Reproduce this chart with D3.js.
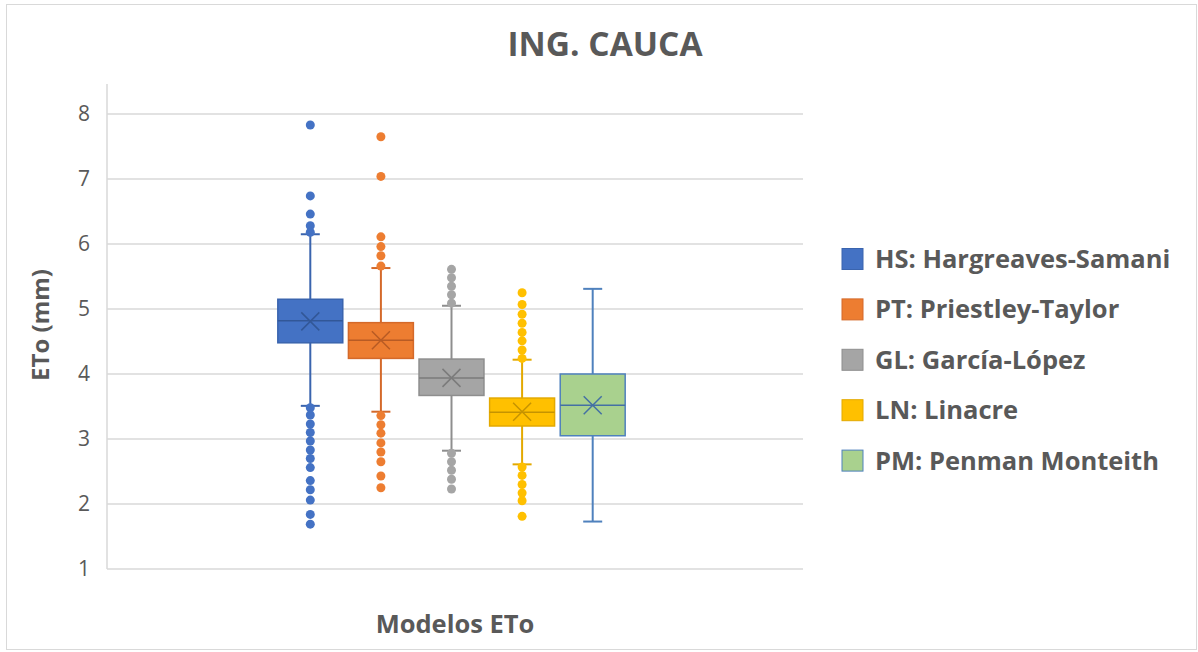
<!DOCTYPE html>
<meta charset="utf-8">
<head>
  <title>ING. CAUCA</title>
</head>

<style>
body { margin: 0; background: #fff; }
text { font-family: "Open Sans", Lato, sans-serif; fill: #595959; }
.grid line { stroke: #d9d9d9; stroke-width: 1.5; }
</style>

<body>
  <svg width="1198" height="652"></svg>

  <script src="https://cdnjs.cloudflare.com/ajax/libs/d3/7.8.5/d3.min.js"></script>
  <script>
var width = 1198, height = 652

// series
var series = ['HS: Hargreaves-Samani', 'PT: Priestley-Taylor', 'GL: García-López', 'LN: Linacre', 'PM: Penman Monteith']
var fills   = ['#4472C4', '#ED7D31', '#A5A5A5', '#FFC000', '#A9D18E']
var strokes = ['#3A64AE', '#D4692A', '#8E8E8E', '#E3A900', '#4F81BD']

var q1      = [4.48, 4.24, 3.67, 3.20, 3.05]
var medians = [4.82, 4.52, 3.94, 3.41, 3.52]
var q3      = [5.15, 4.79, 4.23, 3.63, 4.00]
var lows    = [3.51, 3.42, 2.82, 2.61, 1.73]
var highs   = [6.15, 5.63, 5.05, 4.22, 5.31]
var means   = [4.81, 4.52, 3.94, 3.42, 3.52]
var outliers = [
  [7.83, 6.74, 6.46, 6.28, 6.18, 3.48, 3.37, 3.23, 3.10, 2.97, 2.83, 2.70, 2.56, 2.36, 2.22, 2.06, 1.84, 1.69],
  [7.65, 7.04, 6.11, 5.96, 5.82, 5.66, 3.36, 3.22, 3.09, 2.94, 2.80, 2.65, 2.43, 2.25],
  [5.61, 5.48, 5.35, 5.22, 5.09, 2.78, 2.65, 2.52, 2.38, 2.23],
  [5.25, 5.07, 4.92, 4.78, 4.64, 4.51, 4.37, 4.24, 2.57, 2.44, 2.30, 2.17, 2.05, 1.81],
  []
]
var yTicks = [1, 2, 3, 4, 5, 6, 7, 8]

var svg = d3.select('svg')

// chart border
svg.append('rect')
  .attr('x', 6.5).attr('y', 4.5)
  .attr('width', 1190).attr('height', 645)
  .attr('fill', '#fff').attr('stroke', '#d9d9d9')

var plotLeft = 107, plotRight = 803, plotTop = 114, plotBottom = 569

var y = d3.scaleLinear().domain([1, 8]).range([plotBottom, plotTop])
var x = d3.scaleBand().domain(series).range([275, 628]).paddingInner(0.08).paddingOuter(0.04)

// gridlines
svg.append('g').attr('class', 'grid')
  .selectAll('line').data(yTicks).enter().append('line')
  .attr('x1', plotLeft).attr('x2', plotRight)
  .attr('y1', function(d) { return y(d) }).attr('y2', function(d) { return y(d) })

svg.append('line')
  .attr('x1', plotLeft).attr('x2', plotLeft)
  .attr('y1', plotTop - 30).attr('y2', plotBottom)
  .attr('stroke', '#d9d9d9').attr('stroke-width', 1.5)

// y axis labels
var yAxis = svg.append('g')
  .attr('transform', 'translate(' + plotLeft + ',0)')
  .call(d3.axisLeft(y).tickValues(yTicks).tickFormat(d3.format('d')).tickSize(0).tickPadding(17))
yAxis.select('.domain').remove()
yAxis.selectAll('text').style('font-size', '21px').style('font-family', '"Open Sans", sans-serif').attr('fill', '#595959')

var boxes = svg.append('g').selectAll('g').data(series).enter().append('g')

boxes.each(function(name, i) {
  var g = d3.select(this)
  var cx = x(name) + x.bandwidth() / 2
  var bw = x.bandwidth()

  // whiskers
  g.append('line')
    .attr('x1', cx).attr('x2', cx)
    .attr('y1', y(highs[i])).attr('y2', y(lows[i]))
    .attr('stroke', strokes[i]).attr('stroke-width', 2)
  ;[highs[i], lows[i]].forEach(function(v) {
    g.append('line')
      .attr('x1', cx - 9.5).attr('x2', cx + 9.5)
      .attr('y1', y(v)).attr('y2', y(v))
      .attr('stroke', strokes[i]).attr('stroke-width', 2)
  })

  // box
  g.append('rect')
    .attr('x', x(name)).attr('width', bw)
    .attr('y', y(q3[i])).attr('height', y(q1[i]) - y(q3[i]))
    .attr('fill', fills[i]).attr('stroke', strokes[i]).attr('stroke-width', 1.5)

  // median
  g.append('line')
    .attr('x1', x(name)).attr('x2', x(name) + bw)
    .attr('y1', y(medians[i])).attr('y2', y(medians[i]))
    .attr('stroke', d3.color(strokes[i]).darker(0.4)).attr('stroke-width', 1.5)

  // mean marker
  var my = y(means[i])
  g.append('path')
    .attr('d', 'M' + (cx - 9) + ',' + (my - 9) + 'L' + (cx + 9) + ',' + (my + 9) +
               'M' + (cx - 9) + ',' + (my + 9) + 'L' + (cx + 9) + ',' + (my - 9))
    .attr('stroke', d3.color(strokes[i]).darker(0.4)).attr('stroke-width', 1.5)

  // outliers
  g.selectAll('circle').data(outliers[i]).enter().append('circle')
    .attr('cx', cx).attr('cy', function(d) { return y(d) })
    .attr('r', 4.5).attr('fill', fills[i])
})

// title
svg.append('text')
  .attr('x', 605).attr('y', 56)
  .attr('text-anchor', 'middle')
  .style('font-size', '33.5px').style('font-weight', 'bold')
  .text('ING. CAUCA')

// axis titles
svg.append('text')
  .attr('transform', 'translate(49,325) rotate(-90)')
  .attr('text-anchor', 'middle')
  .style('font-size', '24px').style('font-weight', 'bold')
  .text('ETo (mm)')

svg.append('text')
  .attr('x', 455).attr('y', 633)
  .attr('text-anchor', 'middle')
  .style('font-size', '25.5px').style('font-weight', 'bold')
  .text('Modelos ETo')

// legend
var legend = svg.append('g').selectAll('g').data(series).enter().append('g')
  .attr('transform', function(d, i) { return 'translate(842,' + (259 + i * 50.4) + ')' })

legend.append('rect')
  .attr('x', 0).attr('y', -10.5).attr('width', 21).attr('height', 21)
  .attr('fill', function(d, i) { return fills[i] })
  .attr('stroke', function(d, i) { return strokes[i] })

legend.append('text')
  .attr('x', 33).attr('y', 9)
  .style('font-size', '25.5px').style('font-weight', 'bold')
  .text(function(d) { return d })
  </script>
</body>
</html>
